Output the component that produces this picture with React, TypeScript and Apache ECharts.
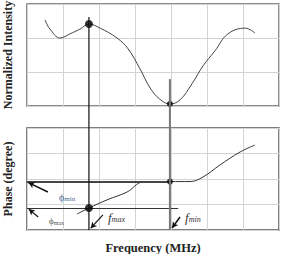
import React, { useEffect, useRef } from "react";
import * as echarts from "echarts";

const freq = [0.5, 0.64, 0.92, 1.19, 1.47, 1.72, 2.03, 2.5, 2.81, 3.14, 3.42, 3.69, 3.97, 4.25, 4.58, 4.89, 5.22, 5.58, 6.06, 6.33];
const intensity = [2.53, 2.26, 2.0, 2.12, 2.26, 2.41, 2.29, 2.0, 1.68, 1.09, 0.53, 0.2, 0.06, 0.18, 0.65, 1.18, 1.62, 2.12, 2.29, 2.15];
const phaseFreq = [1.39, 1.72, 2.22, 2.78, 3.22, 3.97, 4.53, 4.89, 5.36, 5.92, 6.33];
const phase = [0.63, 0.86, 1.18, 1.49, 1.88, 1.9, 1.9, 2.08, 2.55, 3.06, 3.33];

const fMax = 1.72;
const fMin = 3.97;
const peakIntensity = 2.41;
const minIntensity = 0.06;
const phiMin = 1.9;
const phiMax = 0.86;

const SERIF = "Liberation Serif";

export default function App() {
  const ref = useRef<HTMLDivElement>(null);
  useEffect(() => {
    if (!ref.current) return;
    const chart = echarts.init(ref.current, null, { renderer: "svg" });
    const hidden = {
      axisLine: { show: false },
      axisTick: { show: false },
      axisLabel: { show: false },
      splitLine: { show: true, lineStyle: { color: "#d4d4d4", width: 1 } },
    };
    const nameStyle = { fontFamily: SERIF, fontWeight: "bold", fontSize: 12, color: "#222" };
    const arrow = (from: number[], to: number[], w: number) => [
      { coord: from, symbol: "none", lineStyle: { color: "#111", width: w, type: "solid" } },
      { coord: to, symbol: "arrow", symbolSize: [5, 6] },
    ];
    const option: any = {
      animation: false,
      grid: [
        { left: 27, top: 4, width: 252, height: 102, show: true, borderColor: "#666", borderWidth: 1.5, outerBoundsMode: "none", containLabel: false },
        { left: 27, top: 128, width: 252, height: 102, show: true, borderColor: "#555", borderWidth: 1.5, outerBoundsMode: "none", containLabel: false },
      ],
      xAxis: [
        { type: "value", gridIndex: 0, min: 0, max: 7, interval: 1, ...hidden },
        {
          type: "value", gridIndex: 1, min: 0, max: 7, interval: 1, ...hidden,
          name: "Frequency (MHz)", nameLocation: "middle", nameGap: 11,
          nameTextStyle: { ...nameStyle, fontSize: 12.5 },
        },
      ],
      yAxis: [
        {
          type: "value", gridIndex: 0, min: 0, max: 3, interval: 1, ...hidden,
          name: "Normalized Intensity", nameLocation: "middle", nameGap: 13,
          nameTextStyle: nameStyle,
        },
        {
          type: "value", gridIndex: 1, min: 0, max: 4, interval: 1, ...hidden,
          name: "Phase (degree)", nameLocation: "middle", nameGap: 13,
          nameTextStyle: nameStyle,
        },
      ],
      series: [
        {
          type: "line", xAxisIndex: 0, yAxisIndex: 0, smooth: 0.4, symbol: "none",
          lineStyle: { color: "#444", width: 1 },
          data: freq.map((f, i) => [f, intensity[i]]),
        },
        {
          type: "scatter", xAxisIndex: 0, yAxisIndex: 0, symbolSize: 8, z: 5,
          itemStyle: { color: "#000" }, data: [[fMax, peakIntensity]],
        },
        {
          type: "scatter", xAxisIndex: 0, yAxisIndex: 0, symbolSize: 6, z: 5,
          itemStyle: { color: "#000" }, data: [[fMin, minIntensity]],
        },
        {
          type: "line", xAxisIndex: 1, yAxisIndex: 1, smooth: 0.4, symbol: "none",
          lineStyle: { color: "#333", width: 1 },
          data: phaseFreq.map((f, i) => [f, phase[i]]),
          markLine: {
            silent: true,
            symbol: "none",
            label: { show: false },
            data: [
              [
                { coord: [0, phiMin], lineStyle: { color: "#444", width: 2, type: "solid" } },
                { coord: [fMin, phiMin] },
              ],
              [
                { coord: [0, phiMax], lineStyle: { color: "#333", width: 1, type: "solid" } },
                { coord: [4.2, phiMax] },
              ],
              arrow([0.58, 1.49], [0.04, 1.86], 1.5),
              arrow([0.31, 0.51], [0.05, 0.82], 1.2),
              arrow([2.11, 0.59], [1.77, 0.07], 1.2),
              arrow([4.25, 0.51], [4.03, 0.08], 1.5),
            ],
          },
        },
        {
          type: "scatter", xAxisIndex: 1, yAxisIndex: 1, symbolSize: 8, z: 5,
          itemStyle: { color: "#000" }, data: [[fMax, phiMax]],
        },
        {
          type: "scatter", xAxisIndex: 1, yAxisIndex: 1, symbolSize: 6, z: 5,
          itemStyle: { color: "#000" }, data: [[fMin, phiMin]],
        },
      ],
    };
    chart.setOption(option);

    const px = (g: number, p: number[]) => chart.convertToPixel({ gridIndex: g }, p) as number[];
    const a1 = px(0, [fMax, 2.62]);
    const a2 = px(1, [fMax, 0]);
    const b1 = px(0, [fMin, 0.79]);
    const b2 = px(1, [fMin, 0]);
    const pMinL = px(1, [0.89, 1.49]);
    const pMaxL = px(1, [0.61, 0.51]);
    const fMaxL = px(1, [2.25, 0.75]);
    const fMinL = px(1, [4.39, 0.75]);

    const sub = (x: number, y: number, main: string, s: string, color: string, mSize: number, sSize: number, italic: boolean, drop: number) => ({
      type: "text",
      z: 20,
      x,
      y,
      style: {
        text: `{a|${main}}{b|${s}}`,
        fill: color,
        rich: {
          a: { fontFamily: SERIF, fontSize: mSize, lineHeight: mSize, fill: color, fontStyle: italic ? "italic" : "normal", verticalAlign: "top", padding: [0, 0, drop, 0] },
          b: { fontFamily: SERIF, fontSize: sSize, lineHeight: sSize, fill: color, fontStyle: italic ? "italic" : "normal", verticalAlign: "bottom" },
        },
      },
    });

    chart.setOption({
      graphic: [
        { type: "line", z: 20, shape: { x1: a1[0], y1: a1[1], x2: a2[0], y2: a2[1] }, style: { stroke: "#111", lineWidth: 1.2 } },
        { type: "line", z: 20, shape: { x1: b1[0], y1: b1[1], x2: b2[0], y2: b2[1] }, style: { stroke: "#777", lineWidth: 2 } },
        sub(pMinL[0], pMinL[1], "ϕ", "min", "#4a6a95", 10, 7, false, 3),
        sub(pMaxL[0], pMaxL[1], "ϕ", "max", "#555", 9, 6, false, 2),
        sub(fMaxL[0], fMaxL[1], "f", "max", "#333", 13, 8, true, 3),
        sub(fMinL[0], fMinL[1], "f", "min", "#333", 13, 8, true, 3),
      ],
    });

    return () => chart.dispose();
  }, []);
  return <div ref={ref} style={{ position: "fixed", left: 0, top: 0, width: 283, height: 254, background: "#fff" }} />;
}
